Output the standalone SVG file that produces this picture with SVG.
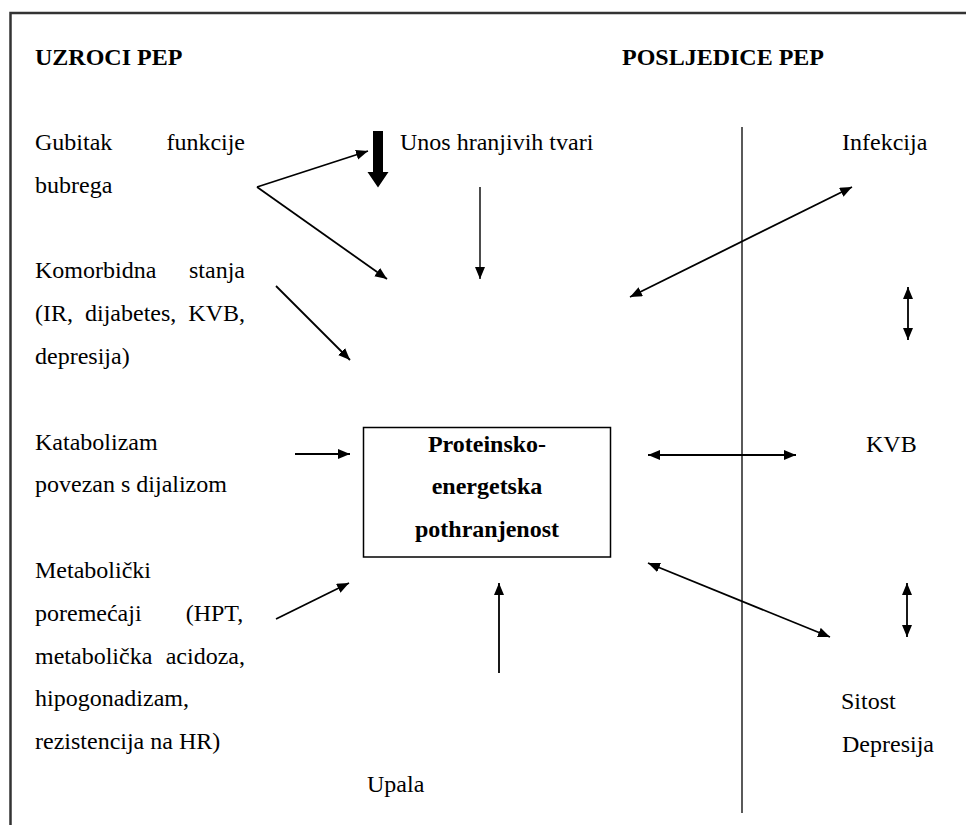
<svg xmlns="http://www.w3.org/2000/svg" width="966" height="825" viewBox="0 0 966 825">
<defs>
<style>
.t{font-family:"Liberation Serif","Times New Roman",serif;font-size:24px;fill:#000}
.b{font-weight:bold}
.c{stroke:#000;stroke-width:1.8;fill:none}
</style>
<marker id="ah" markerUnits="userSpaceOnUse" markerWidth="13" markerHeight="11" refX="12" refY="5" orient="auto-start-reverse" viewBox="0 0 13 11">
<path d="M0,0 L12,5 L0,10 z" fill="#000"/>
</marker>
</defs>
<rect width="966" height="825" fill="#fff"/>
<path d="M10.5,825 V13 H966" fill="none" stroke="#333" stroke-width="2.5"/>
<line x1="742" y1="127" x2="742" y2="813" stroke="#000" stroke-width="1.3"/>

<g id="header-causes"><text class="t b" x="35" y="65">UZROCI PEP</text></g>
<g id="header-consequences"><text class="t b" x="622" y="65">POSLJEDICE PEP</text></g>

<g id="gubitak">
<text class="t"><tspan x="35" y="150">Gubitak</tspan><tspan x="166.4" y="150">funkcije</tspan></text>
<text class="t" x="35" y="192.8">bubrega</text>
</g>
<g id="komorbidna">
<text class="t"><tspan x="35" y="278.4">Komorbidna</tspan><tspan x="189" y="278.4">stanja</tspan></text>
<text class="t"><tspan x="35" y="321.2">(IR,</tspan><tspan x="85" y="321.2">dijabetes,</tspan><tspan x="188.3" y="321.2">KVB,</tspan></text>
<text class="t" x="35" y="364">depresija)</text>
</g>
<g id="katabolizam">
<text class="t" x="35" y="449.6">Katabolizam</text>
<text class="t" x="35" y="492.4">povezan s dijalizom</text>
</g>
<g id="metabolicki">
<text class="t" x="35" y="578">Metabolički</text>
<text class="t"><tspan x="35" y="620.8">poremećaji</tspan><tspan x="185.7" y="620.8">(HPT,</tspan></text>
<text class="t"><tspan x="35" y="663.6">metabolička</tspan><tspan x="165.7" y="663.6">acidoza,</tspan></text>
<text class="t" x="35" y="706.4">hipogonadizam,</text>
<text class="t" x="35" y="749.2">rezistencija na HR)</text>
</g>
<g id="upala"><text class="t" x="367" y="792">Upala</text></g>
<g id="unos">
<text class="t" x="400" y="150">Unos hranjivih tvari</text>
<polygon points="373,131 383,131 383,172 388.5,172 378,187.5 367.5,172 373,172" fill="#000"/>
</g>
<g id="pep">
<rect x="363.5" y="427.5" width="247" height="129.5" fill="#fff" stroke="#000" stroke-width="1.5"/>
<text class="t b" text-anchor="middle" x="487" y="451.6">Proteinsko-</text>
<text class="t b" text-anchor="middle" x="487" y="494.4">energetska</text>
<text class="t b" text-anchor="middle" x="487" y="537.2">pothranjenost</text>
</g>
<g id="infekcija"><text class="t" x="842" y="150">Infekcija</text></g>
<g id="kvb"><text class="t" x="866" y="452">KVB</text></g>
<g id="sitost-depresija">
<text class="t" x="841" y="709">Sitost</text>
<text class="t" x="842" y="752">Depresija</text>
</g>

<g id="connectors" class="c">
<line x1="257" y1="187" x2="368" y2="151" marker-end="url(#ah)"/>
<line x1="257" y1="187" x2="387" y2="279" marker-end="url(#ah)"/>
<line x1="480" y1="187" x2="480" y2="279" marker-end="url(#ah)" stroke-width="1.4"/>
<line x1="276" y1="286" x2="350" y2="360" marker-end="url(#ah)"/>
<line x1="295" y1="454" x2="350" y2="454" marker-end="url(#ah)"/>
<line x1="276" y1="619" x2="349" y2="583" marker-end="url(#ah)"/>
<line x1="499" y1="673" x2="499" y2="583" marker-end="url(#ah)"/>
<line x1="630" y1="297" x2="852" y2="187" marker-start="url(#ah)" marker-end="url(#ah)"/>
<line x1="908" y1="287" x2="908" y2="340" marker-start="url(#ah)" marker-end="url(#ah)"/>
<line x1="648" y1="455" x2="796" y2="455" marker-start="url(#ah)" marker-end="url(#ah)"/>
<line x1="648" y1="563" x2="830" y2="637" marker-start="url(#ah)" marker-end="url(#ah)"/>
<line x1="907" y1="583" x2="907" y2="637" marker-start="url(#ah)" marker-end="url(#ah)"/>
</g>
</svg>
